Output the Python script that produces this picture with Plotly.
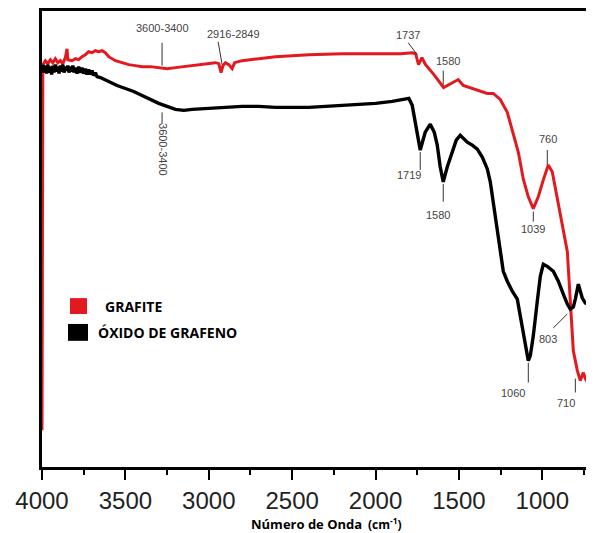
import plotly.graph_objects as go

# ---- data (wavenumber, relative transmittance in arbitrary units) ----
grafite_wn = [4000, 3995, 3980, 3965, 3950, 3935, 3920, 3905, 3890, 3875, 3860, 3850, 3845,
              3820, 3800, 3780, 3760, 3740, 3720, 3700, 3680, 3660, 3640, 3620, 3600, 3560,
              3520, 3480, 3440, 3400, 3350, 3300, 3250, 3200, 3150, 3100, 3050, 3000, 2960,
              2940, 2926, 2915, 2900, 2880, 2860, 2845, 2800, 2700, 2600, 2500, 2400, 2200,
              2000, 1850, 1780, 1760, 1742, 1722, 1700, 1650, 1592, 1560, 1504, 1474, 1400,
              1330, 1294, 1252, 1210, 1174, 1144, 1114, 1084, 1054, 1024, 994, 964, 940, 910,
              880, 850, 832, 814, 790, 772, 754, 742, 724]
grafite_t = [37, 405, 409, 406, 410, 407, 411, 407, 409, 406, 412, 421, 410,
             409, 411, 410, 413, 415, 418, 417, 419, 418, 419, 417, 413, 409,
             407, 405, 404, 403, 403, 402, 401, 402, 403, 404, 405, 406, 407,
             406, 397, 404, 407, 405, 401, 407, 409, 411, 413, 414, 415, 416,
             416, 416, 417, 416, 405, 412, 405, 395, 382, 385, 390, 384, 380,
             376, 376, 370, 357, 334, 317, 290, 272, 260, 272, 289, 304, 297, 270,
             247, 217, 167, 117, 97, 87, 95, 89, 84]

oxido_wn = [3995, 3988, 3980, 3972, 3965, 3958, 3950, 3942, 3935, 3928, 3920, 3912, 3905,
            3898, 3890, 3882, 3875, 3868, 3860, 3852, 3845, 3838, 3830, 3822, 3815, 3808,
            3800, 3790, 3780, 3770, 3760, 3750, 3740, 3730, 3720, 3710, 3700, 3690, 3680,
            3670, 3650, 3600, 3550, 3500, 3450, 3400, 3350, 3300, 3250, 3200, 3150, 3100,
            3000, 2900, 2800, 2700, 2600, 2500, 2400, 2300, 2200, 2100, 2000, 1900, 1820,
            1800, 1780, 1762, 1732, 1702, 1672, 1648, 1630, 1612, 1594, 1570, 1540, 1516,
            1492, 1468, 1450, 1420, 1390, 1360, 1330, 1312, 1294, 1270, 1252, 1234, 1210,
            1180, 1150, 1132, 1114, 1096, 1084, 1072, 1054, 1030, 1012, 994, 970, 934, 904,
            874, 850, 832, 814, 802, 784, 772, 760, 742, 712]
oxido_t = [405, 397, 404, 396, 405, 397, 403, 395, 404, 397, 405, 398, 403,
           396, 404, 398, 405, 397, 403, 399, 404, 397, 403, 398, 404, 397,
           402, 396, 403, 397, 402, 396, 401, 395, 400, 395, 399, 394, 397,
           393, 392, 388, 384, 381, 378, 374, 370, 366, 363, 360, 359, 360,
           361, 362, 363, 363, 362, 362, 362, 363, 364, 365, 366, 368, 370,
           371, 364, 347, 319, 337, 345, 337, 324, 302, 287, 302, 317, 329,
           334, 330, 327, 324, 320, 312, 300, 287, 267, 242, 217, 197, 187,
           177, 169, 152, 137, 117, 107, 112, 132, 167, 192, 204, 202, 197, 187,
           174, 164, 159, 161, 169, 184, 177, 170, 165, 164]

x_ticks = [4000, 3500, 3000, 2500, 2000, 1500, 1000]

# peak labels: text, text position, leader line (x0, y0, x1, y1), text angle
peak_labels = [
    ("3600-3400", 3280, 442, (3280, 427, 3280, 404), 0),
    ("2916-2849", 2854, 436, (2944, 428, 2920, 405), 0),
    ("1737", 1804, 435, (1804, 427, 1750, 415), 0),
    ("1580", 1564, 409, (1594, 399, 1594, 385), 0),
    ("760", 964, 330, (970, 319, 970, 304), 0),
    ("1039", 1054, 240, (1054, 257, 1054, 247), 0),
    ("1719", 1798, 294, (1732, 317, 1732, 299), 0),
    ("1580", 1624, 254, (1594, 285, 1594, 267), 0),
    ("1060", 1174, 74, (1084, 105, 1084, 85), 0),
    ("803", 964, 129, (934, 140, 850, 154), 0),
    ("710", 856, 64, (802, 89, 802, 75), 0),
    ("3600-3400", 3274, 320, (3280, 357, 3280, 345), 90),
]

RED = "#e3191f"

fig = go.Figure()
fig.add_trace(go.Scatter(x=grafite_wn, y=grafite_t, mode="lines",
                         line=dict(color=RED, width=3), showlegend=False))
fig.add_trace(go.Scatter(x=oxido_wn, y=oxido_t, mode="lines",
                         line=dict(color="black", width=3.4), showlegend=False))

for text, tx, ty, (x0, y0, x1, y1), ang in peak_labels:
    fig.add_annotation(x=tx, y=ty, text=text, showarrow=False, textangle=ang,
                       font=dict(family="Liberation Sans, Arial", size=11, color="#444444"))
    fig.add_shape(type="line", x0=x0, y0=y0, x1=x1, y1=y1,
                  line=dict(color="#333333", width=1))

# legend (squares + bold labels)
fig.add_shape(type="rect", x0=3832, x1=3730, y0=154, y1=170,
              fillcolor=RED, line=dict(width=0))
fig.add_shape(type="rect", x0=3844, x1=3724, y0=127, y1=144,
              fillcolor="black", line=dict(width=0))
fig.add_annotation(x=3634, y=162, text="<b>GRAFITE</b>", showarrow=False, xanchor="left",
                   font=dict(family="Open Sans", size=14, color="black"))
fig.add_annotation(x=3676, y=135, text="<b>ÓXIDO DE GRAFENO</b>", showarrow=False, xanchor="left",
                   font=dict(family="Open Sans", size=14, color="black"))

# axis title
fig.add_annotation(xref="paper", yref="paper", x=0.378, y=-0.126, xanchor="left", yanchor="middle",
                   text="<b>Número de Onda</b>", showarrow=False,
                   font=dict(family="Open Sans", size=13, color="black"))
fig.add_annotation(xref="paper", yref="paper", x=0.592, y=-0.124, xanchor="left", yanchor="middle",
                   text="<b>(cm<sup>-1</sup>)</b>", showarrow=False,
                   font=dict(family="Open Sans", size=12, color="black"))

# page body adds an 8px offset, so the figure is 8px smaller on each axis
fig.update_layout(
    width=586, height=525,
    margin=dict(l=34, r=5, t=0, b=66),
    paper_bgcolor="white", plot_bgcolor="white",
    xaxis=dict(range=[4000, 720], tickvals=x_ticks, showgrid=False, zeroline=False,
               showline=True, linecolor="black", linewidth=2.5, mirror=True,
               ticks="outside", ticklen=10, tickwidth=2, tickcolor="black",
               minor=dict(ticks="outside", ticklen=5, tickwidth=2, tickcolor="black", dtick=250, tick0=4000),
               tickfont=dict(family="Liberation Sans, Arial", size=24, color="#222222")),
    yaxis=dict(range=[0, 459], showgrid=False, zeroline=False, showticklabels=False,
               showline=True, linecolor="black", linewidth=2.5, mirror=True, ticks=""),
)

fig.write_html("out.html")
